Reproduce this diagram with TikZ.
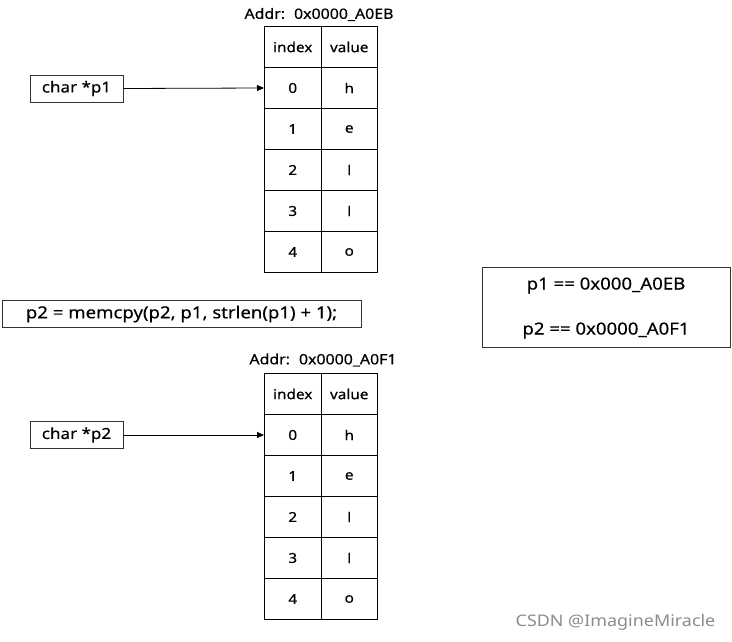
\documentclass[tikz,border=0pt]{standalone}
\usepackage{fontspec}
\setmainfont{Noto Sans}[FakeStretch=1.12,FakeBold=0.4]
\newfontfamily\wmfont{Noto Sans}[FakeStretch=1.12]
\usetikzlibrary{arrows.meta}
\begin{document}
\begin{tikzpicture}[x=1pt,y=-1pt,
  cell/.style={draw=black,line width=1pt,minimum width=56.5pt,minimum height=41pt,inner sep=0pt,anchor=north west,font=\fontsize{13.7}{15}\selectfont},
  ptr/.style={draw=black!80,line width=0.9pt,minimum width=93pt,minimum height=27pt,inner sep=0pt,font=\fontsize{15.2}{17}\selectfont},
  lbl/.style={font=\fontsize{14.2}{16}\selectfont,inner sep=0pt},
  big/.style={font=\fontsize{16.6}{18}\selectfont,inner sep=0pt},
  arr/.style={-{Triangle[length=7pt,width=6pt]},line width=0.8pt}]
\useasboundingbox (0,0) rectangle (732,642);
% top table
\foreach \r/\a/\b in {0/index/value,1/0/h,2/1/e,3/2/l,4/3/l,5/4/o}{
  \node[cell] (ta\r) at (264,{26+41*\r}) {\a};
  \node[cell] (tb\r) at (320.5,{26+41*\r}) {\b};
}
% bottom table
\foreach \r/\a/\b in {0/index/value,1/0/h,2/1/e,3/2/l,4/3/l,5/4/o}{
  \node[cell] (ba\r) at (264,{373+41*\r}) {\a};
  \node[cell] (bb\r) at (320.5,{373+41*\r}) {\b};
}
\node[lbl] (addr1) at (319,14.5) {Addr:\hspace{9pt}0x0000\_A0EB};
\node[lbl] (addr2) at (323,360) {Addr:\hspace{9pt}0x0000\_A0F1};
\node[ptr] (p1) at (76.5,88.5) {char *p1};
\node[ptr] (p2) at (76.5,435) {char *p2};
\draw[arr] (p1.east) -- (ta1.west);
\draw[arr] (p2.east) -- (ba1.west);
\node[draw=black!80,line width=0.9pt,minimum width=359pt,minimum height=27pt,big] (mc) at (181.5,314) {p2 = memcpy(p2, p1, strlen(p1) + 1);};
\node[draw=black!80,line width=0.9pt,minimum width=248pt,minimum height=80pt,inner sep=0pt] (res) at (606,307) {};
\node[big] (r1) at (606,285.5) {p1 == 0x000\_A0EB};
\node[big] (r2) at (606,330.5) {p2 == 0x0000\_A0F1};
\node[font=\wmfont\fontsize{16}{18}\selectfont,text=black!45,inner sep=0pt] (wm) at (615.5,622) {CSDN @ImagineMiracle};
\end{tikzpicture}
\end{document}
